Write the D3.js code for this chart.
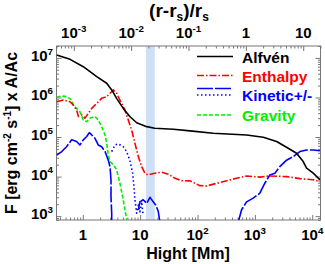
<!DOCTYPE html>
<html>
<head>
<meta charset="utf-8">
<script src="https://d3js.org/d3.v7.min.js"></script>
<style>
  body { margin: 0; background: #fff; }
  text { font-family: "Liberation Sans", Arial, sans-serif; font-weight: bold; }
</style>
</head>
<body>
<div id="mainer"></div>
<script>
// height [Mm], flux values
let alfven = [[0.35,1.19e7],[0.6,9.2e6],[1.02,6.0e6],[1.75,3.36e6],[2.61,2.29e6],[3.19,1.55e6],[3.89,9.5e5],
  [5.07,5.3e5],[6.6,3.3e5],[8.7,2.3e5],[13,1.83e5],[18,1.67e5],[38,1.58e5],[74,1.43e5],[188,1.25e5],
  [716,1.13e5],[1400,9.9e4],[2390,7.7e4],[3560,5.5e4],[5330,3.9e4],[6950,2.4e4],[7960,1.63e4],[10400,1.22e4],[13600,8.3e3]]
let enthalpy = [[0.35,7.8e5],[0.457,8.6e5],[0.6,7.8e5],[0.68,6.5e5],[0.78,4.8e5],[0.84,3.3e5],[0.96,3.6e5],
  [1.09,3.0e5],[1.25,4.0e5],[1.43,5.3e5],[1.75,7.1e5],[2.13,9.5e5],[2.61,1.05e6],[2.98,1.28e6],[3.4,1.55e6],
  [3.89,1.28e6],[4.44,8.6e5],[5.43,4.8e5],[6.2,2.7e5],[7.1,1.51e5],[8.1,7.0e4],[9.3,3.2e4],[10.6,1.79e4],
  [12.1,1.22e4],[13.8,1.1e4],[18,1.22e4],[23.7,1.29e4],[30.9,1.15e4],[40.4,9.1e3],[52.8,7.9e3],[74,7.8e3],
  [110,5.9e3],[144,5.8e3],[245,7.1e3],[480,9.1e3],[716,1.04e4],[1220,9.7e3],[1820,1.04e4],[3560,1.0e4],
  [6080,8.9e3],[10400,8.3e3],[13600,7.5e3]]
let kineticPos1 = [[0.35,3.5e4],[0.43,4.3e4],[0.52,5.7e4],[0.64,8.5e4],[0.78,7.7e4],[0.89,6.3e4],[1.02,8.5e4],
  [1.17,1.03e5],[1.3,1.29e5],[1.43,1.13e5],[1.63,9.3e4],[1.86,6.3e4],[2.13,5.7e4],[2.44,4.3e4],[2.78,2.6e4],
  [2.98,1.79e4],[3.1,8.3e3],[3.1,3.1e3],[3.19,1.19e3],[3.19,600]]
let kineticPos2 = [[9.3,1.45e3],[9.9,2.3e3],[11.3,2.6e3],[13,2.1e3],[14.8,3.0e3],[16.9,2.3e3],[18.8,1.9e3],
  [20.7,1.31e3],[22.1,700]]
let kineticPos3 = [[512,700],[586,1.45e3],[716,2.3e3],[934,2.85e3],[1220,3.8e3],[1490,6.8e3],[1820,1.1e4],
  [2230,1.22e4],[2720,1.79e4],[3560,2.6e4],[4650,3.2e4],[6080,4.3e4],[7960,4.7e4],[10400,4.7e4],[13600,4.5e4]]
let kineticNeg = [[3.19,4.3e4],[3.64,6.3e4],[4.15,6.7e4],[5.07,5.7e4],[5.8,4.3e4],[6.6,2.6e4],[7.4,1.22e4],
  [7.8,5.6e3],[8.1,2.6e3],[8.7,1.19e3],[9.3,1.9e3],[9.9,1.29e3],[10.6,2.3e3],[11.2,1.15e3]]
let gravity = [[0.35,1.01e6],[0.43,1.09e6],[0.52,1.05e6],[0.64,8.6e5],[0.68,6.5e5],[0.78,5.3e5],[0.89,4.4e5],
  [1.02,2.7e5],[1.17,2.45e5],[1.33,3.0e5],[1.63,3.3e5],[1.86,2.7e5],[2.13,1.83e5],[2.44,1.13e5],[2.61,7.0e4],
  [2.78,3.5e4],[2.98,2.4e4],[3.4,2.0e4],[3.89,1.48e4],[4.44,6.8e3],[4.95,3.1e3],[5.43,1.45e3],[5.96,700]]
let band = [12.6, 18]
let xTickLabels = [["1",""],["10",""],["10","2"],["10","3"],["10","4"]]
let xTopLabels = [["10","-3"],["10","-2"],["10","-1"],["1",""],["10",""]]
let yTickLabels = [["10","3"],["10","4"],["10","5"],["10","6"],["10","7"]]

let width = 325, height = 264
let L = 56.5, R = 320.5, T = 46, B = 220

let svg = d3.select("#mainer").append("svg")
  .attr("width", width).attr("height", height)

let x = d3.scaleLog().domain([0.348, 13920]).range([L, R])
let xTop = d3.scaleLog().domain([5e-4, 20]).range([L, R])
let y = d3.scaleLog().domain([800, 2e7]).range([B, T])

svg.append("clipPath").attr("id", "clip")
  .append("rect").attr("x", L).attr("y", T).attr("width", R - L).attr("height", B - T)

// shaded band
svg.append("rect")
  .attr("x", x(band[0])).attr("y", T)
  .attr("width", x(band[1]) - x(band[0])).attr("height", B - T)
  .attr("fill", "#cfe0f6")

// ticks
function isMajor(v) { return Math.abs(Math.log10(v) - Math.round(Math.log10(v))) < 1e-6 }
function tickAxis(axisFn, scale, transform) {
  let all = scale.ticks(20)
  let maj = all.filter(isMajor), min = all.filter(v => !isMajor(v))
  ;[[maj, 5], [min, 2.5]].forEach(function(p) {
    let g = svg.append("g").attr("transform", transform)
      .call(axisFn(scale).tickValues(p[0]).tickSize(-p[1]).tickFormat(""))
    g.select(".domain").remove()
    g.selectAll("line").attr("stroke", "#777").attr("stroke-width", 1)
  })
}
tickAxis(d3.axisBottom, x, `translate(0,${B})`)
tickAxis(d3.axisTop, xTop, `translate(0,${T})`)
tickAxis(d3.axisLeft, y, `translate(${L},0)`)
tickAxis(d3.axisRight, y, `translate(${R},0)`)

svg.append("rect").attr("x", L).attr("y", T).attr("width", R - L).attr("height", B - T)
  .attr("fill", "none").attr("stroke", "#777").attr("stroke-width", 1)

// lines
let line = d3.line().x(d => x(d[0])).y(d => y(d[1]))
let plot = svg.append("g").attr("clip-path", "url(#clip)")
function drawLine(data, color, dash) {
  plot.append("path").attr("d", line(data))
    .attr("fill", "none").attr("stroke", color).attr("stroke-width", 1.6)
    .attr("stroke-dasharray", dash).attr("stroke-linejoin", "round")
}
drawLine(gravity, "#00ee00", "4,2")
drawLine(kineticPos1, "#0000ff", "16,2")
drawLine(kineticPos2, "#0000ff", "16,2")
drawLine(kineticPos3, "#0000ff", "16,2")
drawLine(kineticNeg, "#0000ff", "1.5,2.5")
drawLine(enthalpy, "#ff0000", "7,2,1.5,2")
drawLine(alfven, "#000000", null)

// labels with exponents
function supText(sel, base, exp, size) {
  sel.append("tspan").text(base)
  if (exp) sel.append("tspan").attr("dy", -size * 0.42).attr("font-size", size * 0.65).text(exp)
}
let xMaj = x.ticks(20).filter(isMajor)
xMaj.forEach(function(v, i) {
  let t = svg.append("text").attr("x", x(v)).attr("y", 240).attr("text-anchor", "middle").attr("font-size", 15)
  supText(t, xTickLabels[i][0], xTickLabels[i][1], 15)
})
let xtMaj = xTop.ticks(20).filter(isMajor)
xtMaj.forEach(function(v, i) {
  let t = svg.append("text").attr("x", xTop(v)).attr("y", 38).attr("text-anchor", "middle").attr("font-size", 15)
  supText(t, xTopLabels[i][0], xTopLabels[i][1], 15)
})
let yMaj = y.ticks(20).filter(isMajor)
yMaj.forEach(function(v, i) {
  let t = svg.append("text").attr("x", 53).attr("y", y(v) + 3).attr("text-anchor", "end").attr("font-size", 15)
  supText(t, yTickLabels[i][0], yTickLabels[i][1], 15)
})

// titles
svg.append("text").attr("x", 188).attr("y", 259).attr("text-anchor", "middle")
  .attr("font-size", 16).text("Hight [Mm]")
let tt = svg.append("text").attr("x", 179).attr("y", 17).attr("text-anchor", "middle").attr("font-size", 19)
tt.append("tspan").text("(r-r")
tt.append("tspan").attr("font-size", 12).attr("dy", 4).text("s")
tt.append("tspan").attr("dy", -4).text(")/r")
tt.append("tspan").attr("font-size", 12).attr("dy", 4).text("s")
let yt = svg.append("text").attr("transform", "translate(17,133) rotate(-90)")
  .attr("text-anchor", "middle").attr("font-size", 16)
yt.append("tspan").text("F [erg cm")
yt.append("tspan").attr("font-size", 10).attr("dy", -6).text("-2")
yt.append("tspan").attr("dy", 6).text(" s")
yt.append("tspan").attr("font-size", 10).attr("dy", -6).text("-1")
yt.append("tspan").attr("dy", 6).text("] x A/Ac")

// legend
let legend = [
  { name: "Alfvén", color: "#000000", lines: [[null, 0]], ty: 62.5 },
  { name: "Enthalpy", color: "#ff0000", lines: [["7,2,1.5,2", 0]], ty: 81.5 },
  { name: "Kinetic+/-", color: "#0000ff", lines: [["16,2", -6.5], ["1.5,2.5", 0]], ty: 101 },
  { name: "Gravity", color: "#00ee00", lines: [["4,2", 0]], ty: 121 }
]
legend.forEach(function(d) {
  d.lines.forEach(function(l) {
    let ly = d.ty - 6 + l[1]
    svg.append("line").attr("x1", 197).attr("x2", 233).attr("y1", ly).attr("y2", ly)
      .attr("stroke", d.color).attr("stroke-width", 1.6).attr("stroke-dasharray", l[0])
  })
  svg.append("text").attr("x", 242).attr("y", d.ty).attr("font-size", 15.5)
    .attr("fill", d.color).text(d.name)
})
</script>
</body>
</html>
